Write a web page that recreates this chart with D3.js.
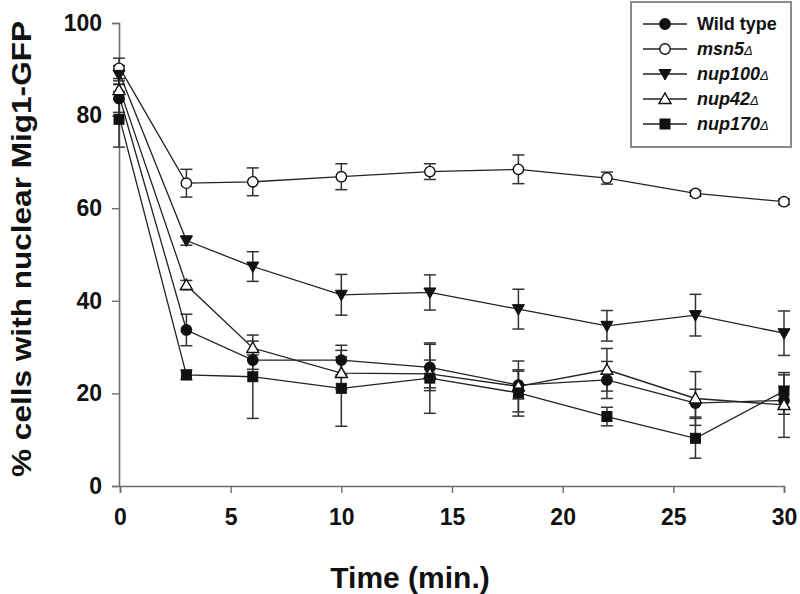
<!DOCTYPE html>
<html>
<head>
<meta charset="utf-8">
<script src="https://cdn.jsdelivr.net/npm/d3@7"></script>
<style>
  html, body { margin: 0; padding: 0; background: #fff; }
  svg { display: block; }
  text { font-family: "Liberation Sans", Arial, sans-serif; font-weight: bold; fill: #111; }
</style>
</head>
<body>
<svg id="chart" width="800" height="594"></svg>
<script>
// ---- data ----
const times = [0, 3, 6, 10, 14, 18, 22, 26, 30];

const wildTypeValues = [83.7, 33.7, 27.2, 27.2, 25.6, 21.8, 22.9, 17.9, 18.5];
const wildTypeErrors = [3, 3.4, 2, 3.2, 5, 3, 4, 3, 3];

const msn5Values = [90.2, 65.4, 65.7, 66.8, 67.9, 68.4, 66.5, 63.2, 61.4];
const msn5Errors = [2.2, 3, 3, 2.8, 1.7, 3.1, 1.3, 0.6, 0.6];

const nup100Values = [88.8, 53.0, 47.4, 41.3, 41.8, 38.2, 34.6, 36.9, 33.0];
const nup100Errors = [2, 1, 3.2, 4.4, 3.8, 4.3, 3.3, 4.5, 4.8];

const nup42Values = [85.5, 43.4, 29.8, 24.4, 24.2, 21.5, 25.1, 18.9, 17.5];
const nup42Errors = [2, 1, 1.5, 3.5, 3, 5.5, 4.6, 5.8, 7];

const nup170Values = [79.2, 24.0, 23.6, 21.1, 23.3, 20.1, 15.0, 10.3, 20.5];
const nup170Errors = [6, 1, 9, 8.2, 7.6, 5, 2, 4.3, 3.5];

const seriesNames = ["Wild type", "msn5", "nup100", "nup42", "nup170"];
const seriesItalic = [false, true, true, true, true];
const seriesSymbols = ["circleFilled", "circleOpen", "triangleDownFilled", "triangleUpOpen", "squareFilled"];

const xTicks = [0, 5, 10, 15, 20, 25, 30];
const yTicks = [0, 20, 40, 60, 80, 100];
const xTitle = "Time (min.)";
const yTitle = "% cells with nuclear Mig1-GFP";

// ---- build ----
const series = [
  { v: wildTypeValues, e: wildTypeErrors },
  { v: msn5Values, e: msn5Errors },
  { v: nup100Values, e: nup100Errors },
  { v: nup42Values, e: nup42Errors },
  { v: nup170Values, e: nup170Errors }
].map((s, i) => ({
  name: seriesNames[i], italic: seriesItalic[i], sym: seriesSymbols[i],
  points: times.map((t, j) => ({ t, v: s.v[j], e: s.e[j] }))
}));

const svg = d3.select("#chart");
const x = d3.scaleLinear().domain([0, 30]).range([120, 784]);
const y = d3.scaleLinear().domain([0, 100]).range([486, 23]);

const axisColor = "#6e6e6e";

// axes
const gx = svg.append("g").attr("transform", `translate(0,${y(0)})`)
  .call(d3.axisBottom(x).tickValues(xTicks).tickSize(7).tickPadding(16).tickFormat(d3.format("d")));
const gy = svg.append("g").attr("transform", `translate(${x(0) - 1},0)`)
  .call(d3.axisLeft(y).tickValues(yTicks).tickSize(7).tickPadding(10).tickFormat(d3.format("d")));
[gx, gy].forEach(g => {
  g.select(".domain").attr("stroke", axisColor).attr("stroke-width", 1.6);
  g.selectAll(".tick line").attr("stroke", axisColor).attr("stroke-width", 1.4);
  g.selectAll(".tick text").attr("font-size", 23).attr("font-weight", "bold")
    .attr("font-family", "'Liberation Sans', Arial, sans-serif").attr("fill", "#111");
});

// titles
svg.append("text")
  .attr("transform", `translate(31,${(20 + 478) / 2}) rotate(-90)`)
  .attr("text-anchor", "middle")
  .attr("font-size", 28)
  .attr("textLength", 456).attr("lengthAdjust", "spacingAndGlyphs")
  .text(yTitle);

svg.append("text")
  .attr("x", 410).attr("y", 588)
  .attr("text-anchor", "middle")
  .attr("font-size", 30)
  .text(xTitle);

// symbol drawing
function drawSymbol(g, sym, cx, cy) {
  const stroke = "#111";
  if (sym === "circleFilled" || sym === "circleOpen") {
    g.append("circle").attr("cx", cx).attr("cy", cy).attr("r", 5.2)
      .attr("fill", sym === "circleFilled" ? "#111" : "#fff").attr("stroke", stroke).attr("stroke-width", 1.4);
  } else if (sym === "squareFilled") {
    g.append("rect").attr("x", cx - 5).attr("y", cy - 5).attr("width", 10).attr("height", 10)
      .attr("fill", "#111").attr("stroke", stroke).attr("stroke-width", 1);
  } else if (sym === "triangleDownFilled") {
    g.append("path").attr("d", `M${cx - 6},${cy - 4.5} L${cx + 6},${cy - 4.5} L${cx},${cy + 6} Z`)
      .attr("fill", "#111").attr("stroke", stroke).attr("stroke-width", 1);
  } else if (sym === "triangleUpOpen") {
    g.append("path").attr("d", `M${cx - 6},${cy + 4.5} L${cx + 6},${cy + 4.5} L${cx},${cy - 6} Z`)
      .attr("fill", "#fff").attr("stroke", stroke).attr("stroke-width", 1.4);
  }
}

const plot = svg.append("g");
const line = d3.line().x(d => x(d.t)).y(d => y(d.v));

// error bars
series.forEach(s => {
  const g = plot.append("g");
  s.points.forEach(p => {
    const cx = x(p.t) - (p.t === 0 ? 1 : 0);
    g.append("line").attr("x1", cx).attr("x2", cx).attr("y1", y(p.v + p.e)).attr("y2", y(p.v - p.e))
      .attr("stroke", "#333").attr("stroke-width", 1.5);
    [p.v + p.e, p.v - p.e].forEach(val => {
      g.append("line").attr("x1", cx - 6).attr("x2", cx + 6).attr("y1", y(val)).attr("y2", y(val))
        .attr("stroke", "#333").attr("stroke-width", 1.5);
    });
  });
});

// lines
series.forEach(s => {
  plot.append("path").datum(s.points).attr("d", line)
    .attr("fill", "none").attr("stroke", "#222").attr("stroke-width", 1.3);
});

// markers
series.forEach(s => {
  const g = plot.append("g");
  s.points.forEach(p => drawSymbol(g, s.sym, x(p.t) - (p.t === 0 ? 1 : 0), y(p.v)));
});

// legend
const lg = svg.append("g");
lg.append("rect").attr("x", 631).attr("y", 2).attr("width", 160).attr("height", 145)
  .attr("fill", "#fff").attr("stroke", "#8a8a8a").attr("stroke-width", 2);
series.forEach((s, i) => {
  const ly = 24 + i * 25;
  lg.append("line").attr("x1", 643).attr("x2", 687).attr("y1", ly).attr("y2", ly)
    .attr("stroke", "#222").attr("stroke-width", 1.5);
  drawSymbol(lg, s.sym, 665, ly);
  const t = lg.append("text").attr("x", 697).attr("y", ly + 6).attr("font-size", 18);
  if (s.italic) {
    t.attr("font-style", "italic");
    t.append("tspan").text(s.name);
    t.append("tspan").attr("font-size", 13).attr("font-weight", "normal").text("Δ");
  } else {
    t.text(s.name);
  }
});
</script>
</body>
</html>
